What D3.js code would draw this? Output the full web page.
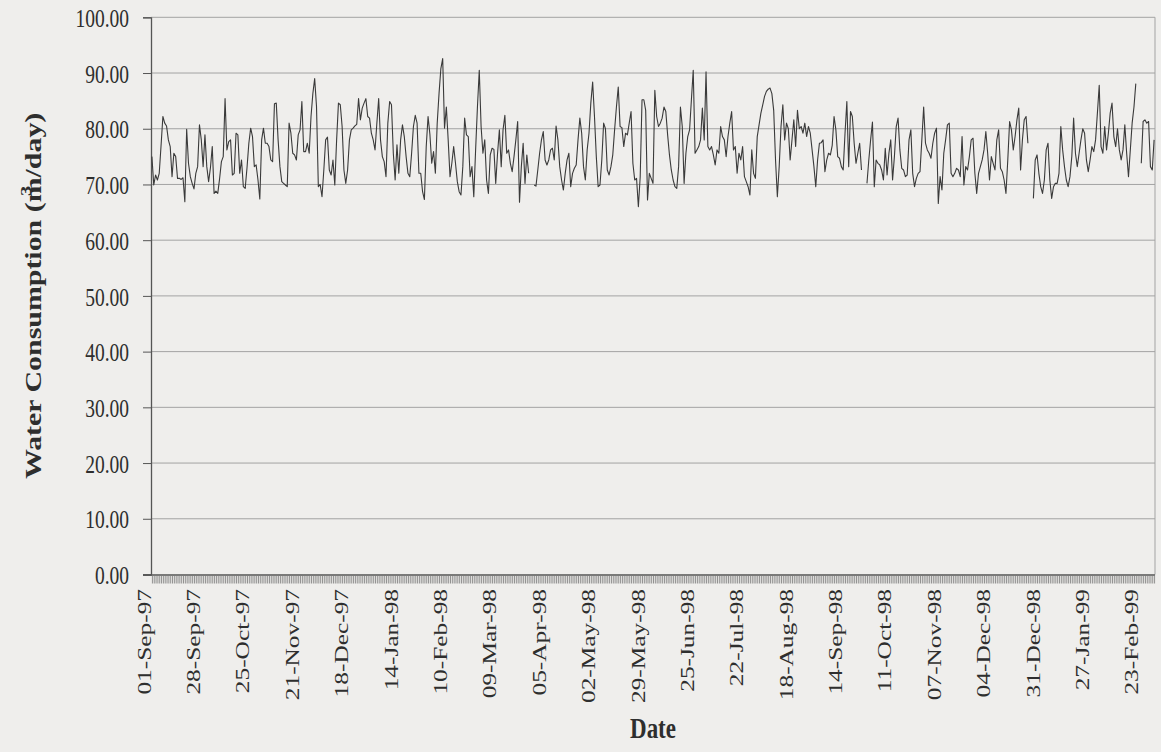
<!DOCTYPE html>
<html>
<head>
<meta charset="utf-8">
<script src="https://cdn.jsdelivr.net/npm/d3@7"></script>
<style>
  html, body { margin: 0; padding: 0; background: #efeeec; }
  svg { display: block; }
  text { font-family: "Times New Roman", "Liberation Serif", serif; fill: #2e2e2e; }
</style>
</head>
<body>
<svg id="chart" width="1161" height="752"></svg>
<script>
// Daily water consumption (m3/day), one array per month; null = no reading
const startDate = "1997-09-01";
const sep97 = [75,69.9,71.7,70.8,72,77,82.2,81,80.5,78,76.8,71.4,75.6,75,71.1,71.1,70.9,71.2,66.9,79.9,73.8,71.4,70.2,69.2,72,73.2,80.7,78,73.2,78.9];
const oct97 = [73.2,70.5,73,76.8,68.4,68.8,68.4,71,74.1,75,85.4,76.2,77.7,78,71.7,72,79.2,78.9,72,74.4,69.6,69.3,73,77.4,80.1,78.6,73.2,73.5,70.8,67.4,78];
const nov97 = [80.1,77.4,77.4,76.8,74.4,74.1,84.5,84.6,78,73.2,70.5,70.2,69.9,69.6,81,79.2,75.6,75.3,74.4,78.9,79.8,84.9,75.9,75.9,77.4,75.6,82.2,86.3,89,84];
const dec97 = [69.6,70,67.8,72.6,78,78.5,72.6,71.7,74.4,69.9,78,84.6,84.3,80.4,72.6,70.2,72.6,78,79.8,80.1,80.5,80.8,85.4,81.6,83.7,84.6,85.4,82.2,81.9,79.2,78];
const jan98 = [76.2,81,85.4,78,75,74.1,71.4,81,84.9,84.3,75.6,70.8,77.1,72,78,80.7,78.6,75,72,71.4,75.6,80.4,82.4,81,72,72,68.7,67.3,76.8,82.2,79];
const feb98 = [73.8,75.9,72,81,86.3,90.8,92.6,80.1,83.9,78,71.4,73.8,76.8,73.8,70.5,68.7,68.1,73.2,81.9,78.9,78.6,71.4,73.2,67.8,76.2,83.9,90.5,80.4];
const mar98 = [75.6,78,70.8,68.4,75.3,76.5,76.3,70.2,75.6,79.8,73.2,79.8,82.4,75.6,76.2,73.8,72.3,75,78,81.3,66.8,73.2,77.4,70.2,75.3,72,null,null,69.9,69.7,72.6];
const apr98 = [75.6,78,79.5,74.4,73.5,74.4,76.2,76.5,74.4,80.5,78,73.2,70.8,69,72,74.4,75.6,69.6,72,72.9,73.5,78,81.9,79.2,73.2,70.8,76.2,79.2,84.6,88.4];
const may98 = [82.2,75,69.6,69.9,74.4,81,80,72.6,71.7,73.2,75.3,79.8,83.9,87.5,80.4,80.2,76.8,79.2,78.9,81,83.1,73.8,70.8,71.1,66,71.4,85.2,85.2,83.3,67.2,72];
const jun98 = [71.1,70.2,86.9,82.2,80.4,81,81.9,83.9,83.1,78.9,75.3,72.6,70.8,69.6,69.3,73.2,83.9,80.4,70.2,75.6,78.6,79.8,85.2,90.5,75.6,76.2,76.8,78,83.7,78];
const jul98 = [90.2,76.8,76.2,76.8,75.3,73.5,76.2,75.6,80.4,78.6,78,75,78.6,81,83.1,76.2,76.8,72,75.6,74.4,76.8,71.4,70.5,69.6,68.1,76.2,72,71.1,78.6,80.7,82.8];
const aug98 = [84.3,85.8,86.7,87.1,87.3,86.3,83.3,74.4,67.8,73.2,80.4,84.3,78,81,80,74.4,78,81.6,76.8,83.3,80,80.4,79.2,81,78.6,80.4,79.2,76.2,73.2,69.6,74.4];
const sep98 = [77.4,77.5,78,72.3,74.4,75.6,75.3,77,82.2,79.8,75,74.7,73.2,72.6,79.2,84.9,73.2,83.1,82.2,77.4,73.8,75.6,77.4,72.6,null,null,70.2,74.4,78,81.2];
const oct98 = [69.6,74.4,73.8,73.5,72.6,70.8,76.5,71.7,75.6,78,70.8,75,80.4,81.9,76.2,72.9,72.6,71.4,71.7,78,79.8,72,69.6,71.1,72,72.3,78,83.9,77.4,76.2,75.6];
const nov98 = [74.7,77.4,79.2,80.1,66.6,71.4,69,75.6,78,80.7,81,72,71.4,72,72.9,72.6,71.4,78.6,69.9,73.2,72.6,75,78,78.3,72,68.4,72,73.2,74.4,76.2];
const dec98 = [79.5,75.6,70.8,75,73.8,72.6,78,79.8,72.9,72.3,70.8,68.4,74.4,81.3,79.8,76.2,78.6,81.6,83.7,72.6,78,81.6,82.2,77.4,null,null,67.5,74.4,75.3,72,69.6];
const jan99 = [68.4,70.8,76.2,77.4,70.8,67.5,69.6,70.2,70.2,72,80.4,76.2,73.2,70.8,69.6,71.4,75,81.9,75.6,73.2,75.6,78,80,79.2,74.4,72.3,74.4,76.8,75.9,78,82.8];
const feb99 = [87.8,76.8,75.6,80.4,76.2,79.2,82.8,84.6,78.6,76.8,80,76.2,74.4,76.2,80.7,75.6,71.4,76.2,81,83.9,88.1,null,null,73.8,81.3,81.6,81,81.3];
const mar99 = [73.2,72.6,78];

const yTickValues = [0,10,20,30,40,50,60,70,80,90,100];
const xTickLabels = ["01-Sep-97","28-Sep-97","25-Oct-97","21-Nov-97","18-Dec-97","14-Jan-98","10-Feb-98",
  "09-Mar-98","05-Apr-98","02-May-98","29-May-98","25-Jun-98","22-Jul-98","18-Aug-98","14-Sep-98",
  "11-Oct-98","07-Nov-98","04-Dec-98","31-Dec-98","27-Jan-99","23-Feb-99"];

const yTitle = "Water Consumption";
const xTitle = "Date";

const values = [].concat(sep97, oct97, nov97, dec97, jan98, feb98, mar98, apr98, may98, jun98,
  jul98, aug98, sep98, oct98, nov98, dec98, jan99, feb99, mar99);
const t0 = d3.utcParse("%Y-%m-%d")(startDate);
const fmt = d3.utcFormat("%d-%b-%y");
const data = values.map((v, i) => ({ key: fmt(d3.utcDay.offset(t0, i)), v }));

// text is drawn tall and narrow (vertical stretch)
const stretch = 1.3;
const tickFont = 19.5;
const titleFont = 23;

const svg = d3.select("#chart");
const plot = { left: 151, right: 1155, top: 17.3, bottom: 574.5 };

const x = d3.scalePoint()
  .domain(data.map(d => d.key))
  .range([plot.left, plot.right])
  .padding(0.5);

const y = d3.scaleLinear()
  .domain([0, 100])
  .range([plot.bottom, plot.top]);

// horizontal gridlines
svg.append("g")
  .selectAll("line")
  .data(yTickValues.filter(v => v > 0))
  .join("line")
  .attr("x1", plot.left).attr("x2", plot.right)
  .attr("y1", d => y(d)).attr("y2", d => y(d))
  .attr("stroke", "#a3a3a3").attr("stroke-width", 1);

// right edge of plot area
svg.append("line")
  .attr("x1", plot.right).attr("x2", plot.right)
  .attr("y1", y(100)).attr("y2", y(0))
  .attr("stroke", "#a3a3a3").attr("stroke-width", 1);

// y axis
const yAxis = svg.append("g")
  .attr("transform", `translate(${plot.left},0)`)
  .call(d3.axisLeft(y).tickValues(yTickValues).tickSize(8).tickPadding(14).tickFormat(d3.format(".2f")));
yAxis.select(".domain").attr("stroke", "#555").attr("stroke-width", 1.3);
yAxis.selectAll(".tick line").attr("stroke", "#555");
yAxis.selectAll(".tick text")
  .attr("font-size", tickFont)
  .attr("fill", "#2e2e2e")
  .attr("dy", "0.36em")
  .attr("transform", `scale(1,${stretch})`)
  .style("font-family", '"Times New Roman", "Liberation Serif", serif');

// x axis: one tick mark per day
const xAxis = svg.append("g")
  .attr("transform", `translate(0,${plot.bottom})`)
  .call(d3.axisBottom(x).tickValues(x.domain()).tickSize(9).tickFormat(""));
xAxis.select(".domain").attr("stroke", "#555").attr("stroke-width", 1.3)
  .attr("d", `M${plot.left - 8},0.5H${plot.right}`);
xAxis.selectAll(".tick line").attr("stroke", "#7a7a7a").attr("stroke-width", 0.8);

// x tick labels every 27 days, rotated
svg.append("g")
  .selectAll("text")
  .data(xTickLabels)
  .join("text")
  .attr("transform", d => `translate(${x(d) - 8},${plot.bottom + 14.5}) scale(1,${stretch}) rotate(-90)`)
  .attr("text-anchor", "end")
  .attr("dy", "0.35em")
  .attr("font-size", tickFont)
  .text(d => d);

// consumption line
const line = d3.line()
  .defined(d => d.v != null)
  .x(d => x(d.key))
  .y(d => y(d.v));

svg.append("path")
  .datum(data)
  .attr("d", line)
  .attr("fill", "none")
  .attr("stroke", "#3a3a3a")
  .attr("stroke-width", 1.1)
  .attr("stroke-linejoin", "round");

// axis titles
const yt = svg.append("text")
  .attr("transform", `translate(33,${(plot.top + plot.bottom) / 2}) scale(1,${stretch}) rotate(-90)`)
  .attr("text-anchor", "middle")
  .attr("dy", "0.35em")
  .attr("font-size", titleFont)
  .attr("font-weight", "bold");
yt.append("tspan").text(yTitle + " (m");
yt.append("tspan").attr("font-size", titleFont * 0.68).attr("dx", -titleFont * 0.62).attr("dy", -titleFont * 0.45).text("3");
yt.append("tspan").attr("dx", titleFont * 0.28).attr("dy", titleFont * 0.45).text("/day)");

svg.append("text")
  .attr("transform", `translate(${(plot.left + plot.right) / 2},${738}) scale(1,${stretch})`)
  .attr("text-anchor", "middle")
  .attr("font-size", titleFont)
  .attr("font-weight", "bold")
  .text(xTitle);
</script>
</body>
</html>
